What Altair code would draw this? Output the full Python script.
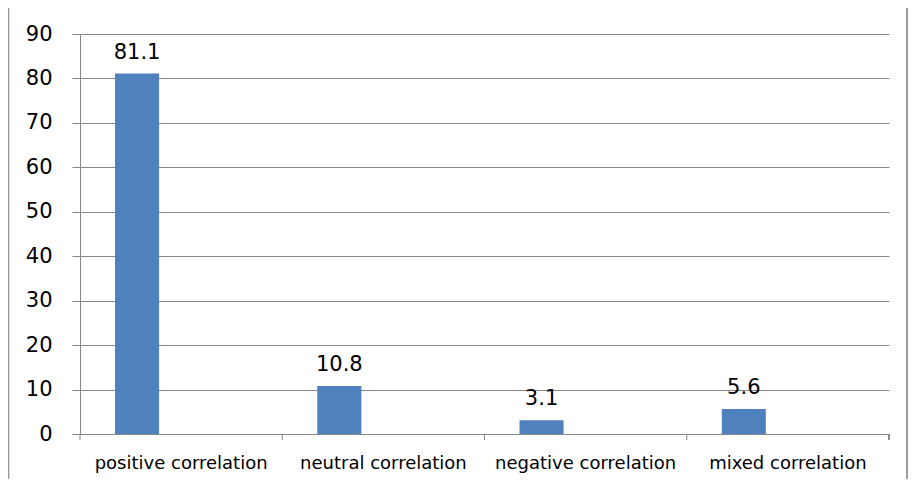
import altair as alt
import pandas as pd

categories = ["positive correlation", "neutral correlation", "negative correlation", "mixed correlation"]
values = [81.1, 10.8, 3.1, 5.6]
series = ["Series1", "Series1", "Series1", "Series1"]
offset_domain = ["Series1", "Series2", "Series3"]
y_ticks = [0, 10, 20, 30, 40, 50, 60, 70, 80, 90]

df = pd.DataFrame({"category": categories, "value": values, "series": series})

W, H = 809, 400
FONT = "DejaVu Sans"
GRAY = "#868686"

x_enc = alt.X("category:N", sort=categories, title=None,
              scale=alt.Scale(paddingInner=0, paddingOuter=0),
              axis=alt.Axis(labelAngle=0, ticks=False, domainColor=GRAY, labelFontSize=18,
                            labelFont=FONT, labelColor="black", labelPadding=20, grid=False,
                            labelLimit=400, labelOverlap=False))
xoff = alt.XOffset("series:N", scale=alt.Scale(domain=offset_domain, paddingOuter=0.795, paddingInner=0))

base = alt.Chart(df)

bars = base.mark_bar(color="#4F81BD").encode(
    x=x_enc,
    xOffset=xoff,
    y=alt.Y("value:Q", title=None,
            scale=alt.Scale(domain=[0, 90], nice=False),
            axis=alt.Axis(values=y_ticks, tickSize=8, tickColor=GRAY, domainColor=GRAY,
                          gridColor=GRAY, labelFontSize=21, labelFont=FONT, labelColor="black",
                          labelPadding=20)),
)

labels = base.mark_text(baseline="alphabetic", dy=-15, fontSize=21, font=FONT, color="black").encode(
    x=alt.X("category:N", sort=categories),
    xOffset=xoff,
    y="value:Q",
    text=alt.Text("value:Q", format=".1f"),
)

ticks = base.mark_rule(color=GRAY).encode(
    x=alt.X("category:N", sort=categories, bandPosition=0),
    y=alt.value(H), y2=alt.value(H + 6),
)
end_tick = base.mark_rule(color=GRAY).encode(
    x=alt.value(W), y=alt.value(H), y2=alt.value(H + 6),
)

border = base.mark_rect(filled=False, stroke="#9a9a9a", strokeWidth=1.2, clip=False).encode(
    x=alt.value(-71.5), x2=alt.value(827), y=alt.value(-27.5), y2=alt.value(452),
)

chart = alt.layer(border, bars, labels, ticks, end_tick).properties(
    width=W, height=H,
    padding={"left": 72, "top": 26, "right": 19, "bottom": 45},
    autosize=alt.AutoSizeParams(type="none"),
).configure_view(stroke=None)

chart.save("out.html", embed_options={"renderer": "svg", "actions": False})
